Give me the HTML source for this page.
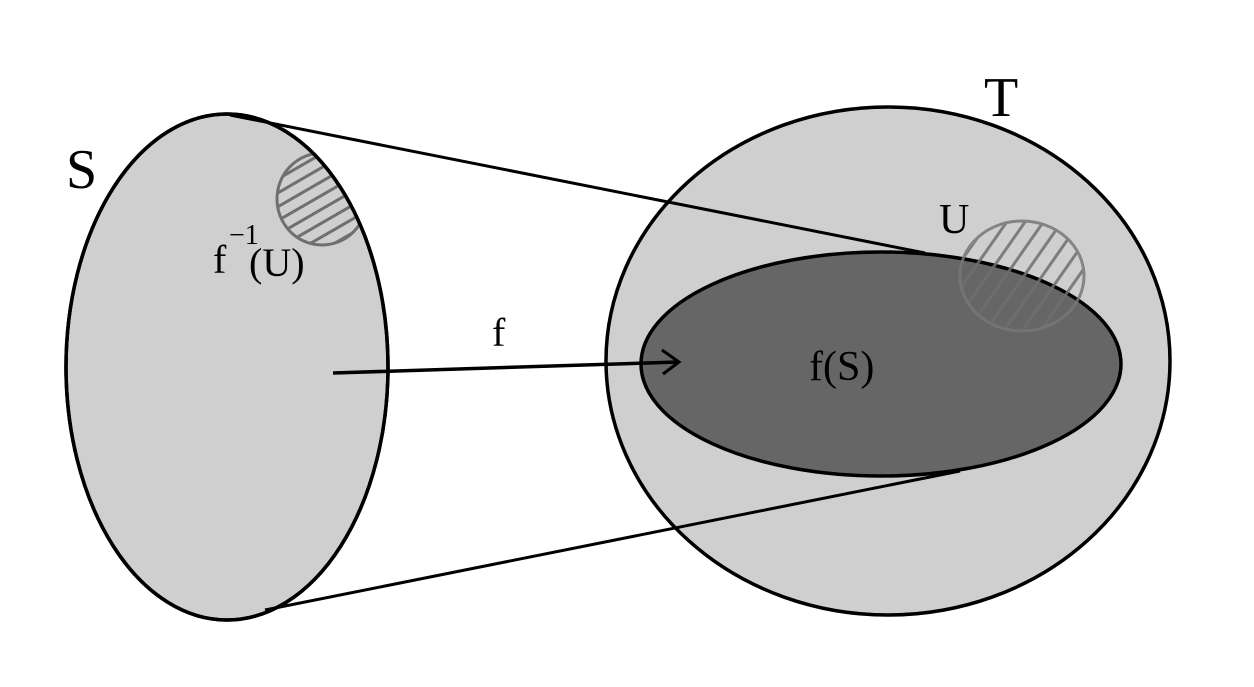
<!DOCTYPE html>
<html><head><style>body{margin:0;background:#fff}svg{display:block}</style></head><body>
<svg width="1254" height="687" viewBox="0 0 1254 687" xmlns="http://www.w3.org/2000/svg">
<defs>
<clipPath id="cs"><ellipse cx="227" cy="367" rx="161" ry="253"/></clipPath>
<pattern id="h1" patternUnits="userSpaceOnUse" width="12" height="12" patternTransform="rotate(-30)"><line x1="0" y1="6" x2="12" y2="6" stroke="#6f6f6f" stroke-width="3"/></pattern>
<pattern id="h2" patternUnits="userSpaceOnUse" width="15" height="15" patternTransform="rotate(-55)"><line x1="0" y1="7" x2="15" y2="7" stroke="#6f6f6f" stroke-width="3"/></pattern>
</defs>
<ellipse cx="888" cy="361" rx="282" ry="254" fill="#cfcfcf" stroke="#000" stroke-width="3.5"/>
<ellipse cx="227" cy="367" rx="161" ry="253" fill="#cfcfcf" stroke="#000" stroke-width="3.5"/>
<g clip-path="url(#cs)">
<ellipse cx="322" cy="199" rx="45" ry="46" fill="url(#h1)" stroke="#6f6f6f" stroke-width="3"/>
</g>
<ellipse cx="227" cy="367" rx="161" ry="253" fill="none" stroke="#000" stroke-width="3.5"/>
<ellipse cx="881" cy="364" rx="240" ry="112" fill="#666" stroke="#000" stroke-width="3.5"/>
<line x1="230" y1="115" x2="925" y2="253" stroke="#000" stroke-width="3"/>
<line x1="265" y1="610" x2="960" y2="471" stroke="#000" stroke-width="3"/>
<ellipse cx="1022" cy="276" rx="62" ry="55" fill="url(#h2)" stroke="#777" stroke-width="3" opacity="0.85"/>
<line x1="333" y1="373" x2="678" y2="362" stroke="#000" stroke-width="3.5"/>
<polyline points="662,350 679,362 663,374" fill="none" stroke="#000" stroke-width="3"/>
<g font-family="Liberation Serif, serif" fill="#000">
<text x="66" y="188" font-size="56">S</text>
<text x="984" y="116" font-size="56">T</text>
<text x="939" y="233" font-size="42">U</text>
<text x="492" y="346" font-size="40">f</text>
<text x="809" y="380" font-size="42">f(S)</text>
<text x="213" y="273" font-size="40">f</text>
<text x="229" y="244" font-size="28">−1</text>
<text x="249" y="276" font-size="40">(U)</text>
</g>
</svg>
</body></html>
